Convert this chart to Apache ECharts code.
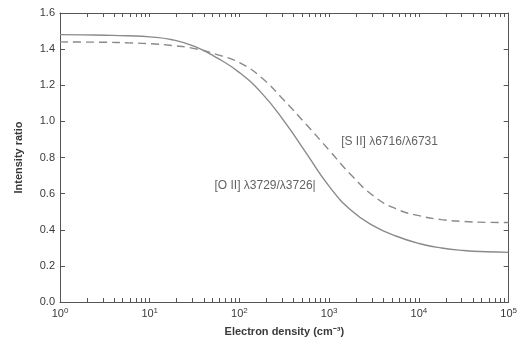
<!DOCTYPE html>
<html>
<head>
<meta charset="utf-8">
<script src="https://cdn.jsdelivr.net/npm/echarts@6/dist/echarts.min.js"></script>
<style>
  html, body { margin: 0; padding: 0; background: #fff; }
  #chart { width: 520px; height: 343px; }
</style>
</head>
<body>
<div id="chart"></div>
<script>
// electron density (cm^-3), quarter-decade sample points
const density = [1, 1.78, 3.16, 5.62, 10, 17.8, 31.6, 56.2, 100, 178, 316, 562, 1000, 1780, 3160, 5620, 10000, 17800, 31600, 56200, 100000];
const oiiRatio = [1.48, 1.479, 1.477, 1.474, 1.468, 1.452, 1.415, 1.352, 1.27, 1.155, 1.0, 0.82, 0.64, 0.505, 0.42, 0.364, 0.324, 0.299, 0.285, 0.278, 0.275];
const siiRatio = [1.44, 1.439, 1.438, 1.435, 1.43, 1.42, 1.403, 1.37, 1.325, 1.24, 1.115, 0.98, 0.84, 0.70, 0.585, 0.515, 0.478, 0.456, 0.446, 0.441, 0.44];

const decades = [1, 10, 100, 1000, 10000, 100000];
// minor ticks 2..9 in each decade
const minorTicks = [];
decades.slice(0, 5).forEach(d => { for (let k = 1; k <= 9; k++) minorTicks.push(d * k); });
minorTicks.push(100000);

const labels = [
  { name: '[S II] \u03bb6716/\u03bb6731', x: 1360, y: 0.889 },
  { name: '[O II] \u03bb3729/\u03bb3726|', x: 52.7, y: 0.645 }
];

const textColor = '#3a3a3a';
const axisColor = '#555';
const lineColor = '#8a8a8a';
const font = 'Liberation Sans, Arial, sans-serif';

const pair = (xs, ys) => xs.map((x, i) => [x, ys[i]]);

const chart = echarts.init(document.getElementById('chart'), null, { renderer: 'canvas' });

const xCommon = {
  type: 'log',
  logBase: 10,
  min: 1,
  max: 100000,
  splitLine: { show: false },
  axisLine: { show: true, onZero: false, lineStyle: { color: axisColor, width: 1 } },
  axisTick: { show: true, inside: true, length: 4, customValues: minorTicks, lineStyle: { color: axisColor } },
};

const yCommon = {
  type: 'value',
  min: 0,
  max: 1.6,
  interval: 0.2,
  splitLine: { show: false },
  axisLine: { show: true, lineStyle: { color: axisColor, width: 1 } },
  axisTick: { show: true, inside: true, length: 5, lineStyle: { color: axisColor } },
};

chart.setOption({
  animation: false,
  grid: { left: 60, right: 10, top: 13, bottom: 41, containLabel: false },
  xAxis: [
    {
      ...xCommon,
      position: 'bottom',
      name: 'Electron density (cm\u207b\u00b3)',
      nameLocation: 'middle',
      nameGap: 24,
      nameTextStyle: { color: textColor, fontSize: 11, fontWeight: 'bold', fontFamily: font },
      axisLabel: {
        margin: 5,
        customValues: decades,
        formatter: v => '{b|10}{s|' + Math.round(Math.log10(v)) + '}',
        rich: {
          b: { color: textColor, fontSize: 11, fontFamily: font },
          s: { color: textColor, fontSize: 8, fontFamily: font, verticalAlign: 'top', padding: [0, 0, 6, 0] }
        }
      }
    },
    {
      ...xCommon,
      position: 'top',
      axisLabel: { show: false }
    }
  ],
  yAxis: [
    {
      ...yCommon,
      position: 'left',
      name: 'Intensity ratio',
      nameLocation: 'middle',
      nameGap: 36,
      nameRotate: 90,
      nameTextStyle: { color: textColor, fontSize: 11, fontWeight: 'bold', fontFamily: font },
      axisLabel: {
        margin: 5,
        color: textColor,
        fontSize: 11,
        fontFamily: font,
        formatter: v => v.toFixed(1)
      }
    },
    {
      ...yCommon,
      position: 'right',
      axisLabel: { show: false }
    }
  ],
  series: [
    {
      name: '[O II]',
      type: 'line',
      smooth: 0.5,
      showSymbol: false,
      data: pair(density, oiiRatio),
      lineStyle: { color: lineColor, width: 1.4 }
    },
    {
      name: '[S II]',
      type: 'line',
      smooth: 0.5,
      showSymbol: false,
      data: pair(density, siiRatio),
      lineStyle: { color: lineColor, width: 1.4, type: [8, 5] }
    },
    {
      type: 'scatter',
      symbolSize: 0,
      silent: true,
      data: labels.map(l => ({ name: l.name, value: [l.x, l.y] })),
      label: {
        show: true,
        position: 'right',
        distance: 0,
        formatter: p => p.name,
        color: textColor,
        fontSize: 12,
        fontFamily: font
      }
    }
  ]
});
</script>
</body>
</html>
